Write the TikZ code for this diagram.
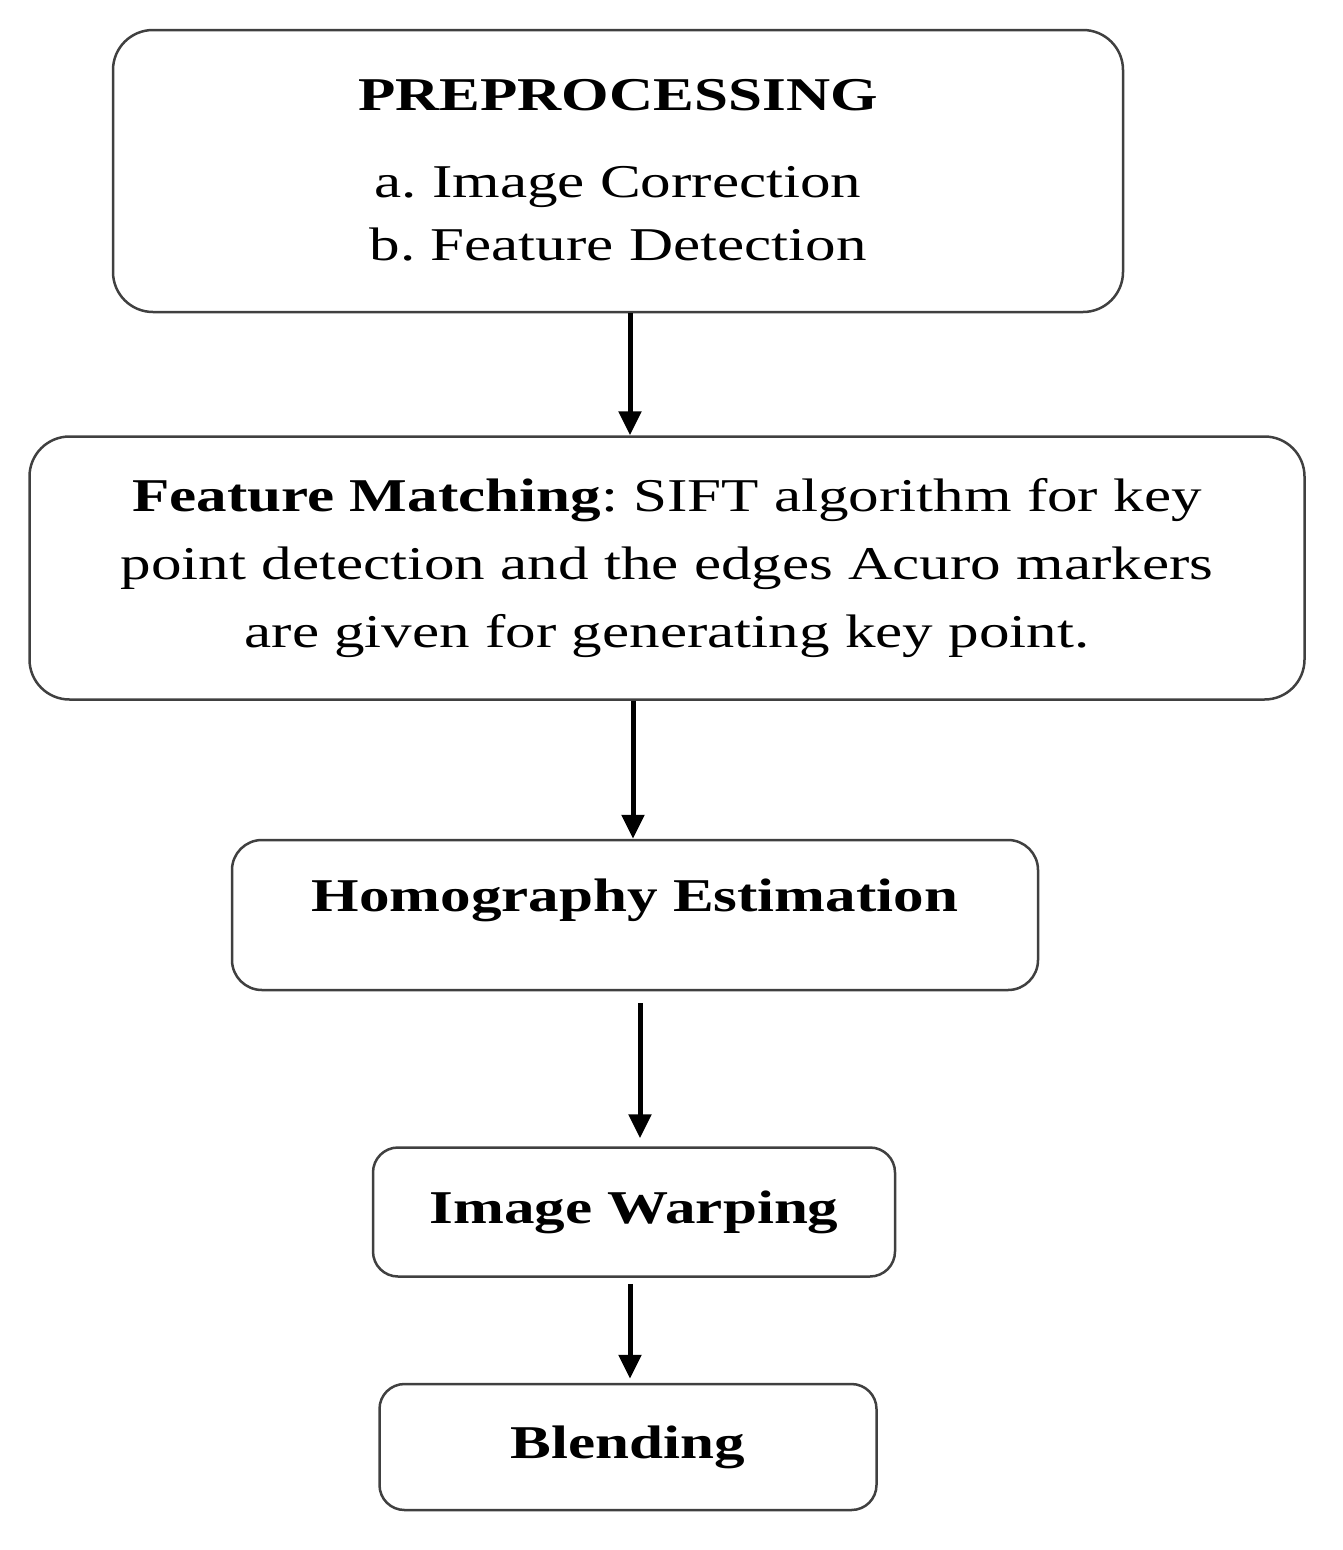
\documentclass[tikz,border=0pt]{standalone}
\usepackage{fontspec}
\setmainfont{Liberation Serif}[FakeStretch=1.3]
\usetikzlibrary{arrows.meta}
\begin{document}
\frenchspacing
\begin{tikzpicture}[x=1pt,y=-1pt,
  box/.style={draw=black!75,line width=2.5pt,rounded corners=40pt,inner sep=0pt,align=center,
    font=\fontsize{47}{68}\selectfont},
  arr/.style={line width=5pt,-{Triangle[length=24pt,width=22pt]}}]
\useasboundingbox (0,0) rectangle (1342,1550);
\node[box,minimum width=1010pt,minimum height=282pt] (b1) at (618,171) {};
\node (t1) at (618,95) {\fontsize{47}{67}\selectfont\bfseries PREPROCESSING};
\node[align=center,font=\fontsize{47}{63}\selectfont] (t1b) at (618,214) {a. Image Correction\\b. Feature Detection};
\node[box,minimum width=1275pt,minimum height=263pt] (b2) at (667,568)
  {\textbf{Feature Matching}: SIFT algorithm for key\\point detection and the edges Acuro markers\\are given for generating key point.};
\node[box,minimum width=806pt,minimum height=150pt,rounded corners=30pt] (b3) at (635,915) {};
\node[font=\fontsize{47}{67}\selectfont\bfseries] (t3) at (635,900) {Homography Estimation};
\node[box,minimum width=522pt,minimum height=129pt,rounded corners=25pt] (b4) at (634,1212) {\textbf{Image Warping}};
\node[box,minimum width=497pt,minimum height=126pt,rounded corners=25pt] (b5) at (628,1447) {\textbf{Blending}};
\draw[arr] ([xshift=12pt]b1.south) -- ([xshift=-37pt]b2.north);
\draw[arr] ([xshift=-34pt]b2.south) -- ([xshift=-2pt]b3.north);
\draw[arr] ([xshift=5pt,yshift=-12pt]b3.south) -- ([xshift=6pt,yshift=8pt]b4.north);
\draw[arr] ([xshift=-4pt,yshift=-6pt]b4.south) -- ([xshift=2pt,yshift=4pt]b5.north);
\end{tikzpicture}
\end{document}
